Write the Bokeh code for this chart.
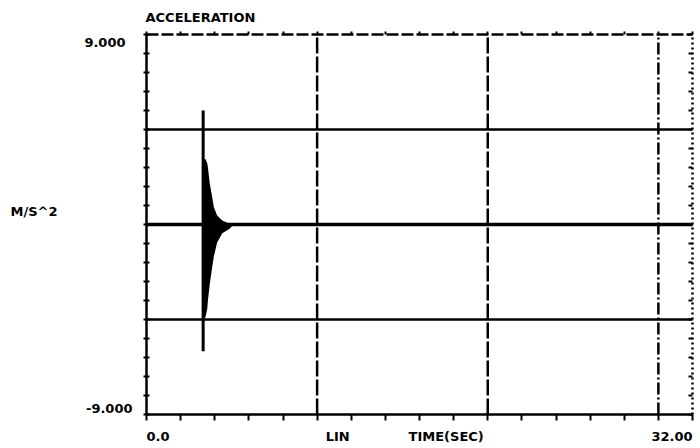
from bokeh.plotting import figure
from bokeh.models import Range1d, FixedTicker, LinearAxis, Label
from bokeh.embed import file_html
from bokeh.resources import INLINE

# ---- data ----
title = "ACCELERATION"
y_unit = "M/S^2"
x_name = "TIME(SEC)"
x_scale_name = "LIN"
x_min, x_max = 0.0, 32.0
y_min, y_max = -9.0, 9.0
x_tick_labels = ["0.0", "32.00"]
y_tick_labels = ["9.000", "-9.000"]

# flat part of the signal
base_t = [0.0, 3.25, 5.15, 32.0]
base_v = [0.0, 0.0, 0.0, 0.0]

# first spike
spike_t = [3.32]
spike_hi = [5.4]
spike_lo = [-6.0]

# envelope of the decaying oscillation
env_t = [3.25, 3.30, 3.45, 3.56, 3.60, 3.71, 3.85, 3.95, 4.14, 4.44, 4.83, 5.12]
env_hi = [3.1, 3.1, 3.1, 2.9, 2.7, 1.93, 1.29, 0.82, 0.43, 0.19, 0.05, 0.0]
env_lo = [-4.4, -4.4, -4.4, -4.0, -3.6, -2.81, -2.02, -1.5, -0.85, -0.42, -0.22, 0.0]

# grid positions
x_grid_dash = [10.0, 20.0]
x_grid_dashdot = [30.0]
y_grid = [-4.5, 0.0, 4.5]

# ---- layout (pixels) ----
W, H = 700, 448
LEFT, RIGHT, TOP, BOTTOM = 146, 692, 34, 414
sx = (RIGHT - LEFT) / (x_max - x_min)
sy = (BOTTOM - TOP) / (y_max - y_min)
xr = Range1d(x_min - LEFT / sx, x_max + (W - RIGHT) / sx)
yr = Range1d(y_min - (H - BOTTOM) / sy, y_max + TOP / sy)

FONT = "DejaVu Sans"
FS = "13px"

p = figure(width=W, height=H, min_border=0,
           x_range=xr, y_range=yr,
           output_backend="svg", toolbar_location=None,
           x_axis_location=None, y_axis_location=None)
p.outline_line_color = None
p.xgrid.visible = False
p.ygrid.visible = False

x_minor = [float(v) for v in range(0, 33, 2)]
y_minor = [round(-9 + 0.9 * i, 2) for i in range(21)]


def make_axis(side, loc, bounds, minor, dash, t_in, t_out):
    ax = LinearAxis(fixed_location=loc, bounds=bounds,
                    ticker=FixedTicker(ticks=[], minor_ticks=minor))
    ax.axis_line_color = "black"
    ax.axis_line_width = 2.5
    ax.axis_line_dash = dash
    ax.major_tick_line_color = None
    ax.minor_tick_line_color = "black"
    ax.minor_tick_line_width = 2
    ax.minor_tick_in = t_in
    ax.minor_tick_out = t_out
    p.add_layout(ax, side)
    return ax


make_axis("below", y_min, (x_min, x_max), x_minor, "solid", 0, 6)
make_axis("above", y_max, (x_min, x_max), x_minor, "12 3", 0, 3)
make_axis("left", x_min, (y_min, y_max), y_minor, "solid", 3, 3)
make_axis("right", x_max, (y_min, y_max), y_minor, "2 3", 4, 0)

# grid lines
p.segment(x0=x_grid_dash, y0=[y_min] * len(x_grid_dash), x1=x_grid_dash, y1=[y_max] * len(x_grid_dash),
          line_color="black", line_width=2.5, line_dash="16 3")
p.segment(x0=x_grid_dashdot, y0=[y_min], x1=x_grid_dashdot, y1=[y_max],
          line_color="black", line_width=2.5, line_dash="12 3 2 3")
p.segment(x0=[x_min] * len(y_grid), y0=y_grid, x1=[x_max] * len(y_grid), y1=y_grid,
          line_color="black", line_width=2.5)

# signal
p.line(base_t, base_v, line_color="black", line_width=3.5)
p.varea(x=env_t, y1=env_lo, y2=env_hi, fill_color="black")
p.segment(x0=spike_t, y0=spike_lo, x1=spike_t, y1=spike_hi, line_color="black", line_width=3)


def lab(text, x, y, xo, yo, align):
    p.add_layout(Label(x=x, y=y, x_offset=xo, y_offset=yo, text=text,
                       text_align=align, text_baseline="middle",
                       text_font=FONT, text_font_size=FS, text_font_style="bold",
                       text_color="black"))


lab(title, x_min, y_max, -1, 17, "left")
lab(y_tick_labels[0], x_min, y_max, -21, -8, "right")
lab(y_tick_labels[1], x_min, y_min, -14, 6, "right")
lab(y_unit, x_min, 0.0, -136, 13, "left")
lab(x_tick_labels[0], x_min, y_min, 0, -22, "left")
lab(x_scale_name, 10.5, y_min, 0, -22, "left")
lab(x_name, 15.36, y_min, 0, -22, "left")
lab(x_tick_labels[1], x_max, y_min, 0, -22, "right")

open("out.html", "w").write(file_html(p, INLINE))
